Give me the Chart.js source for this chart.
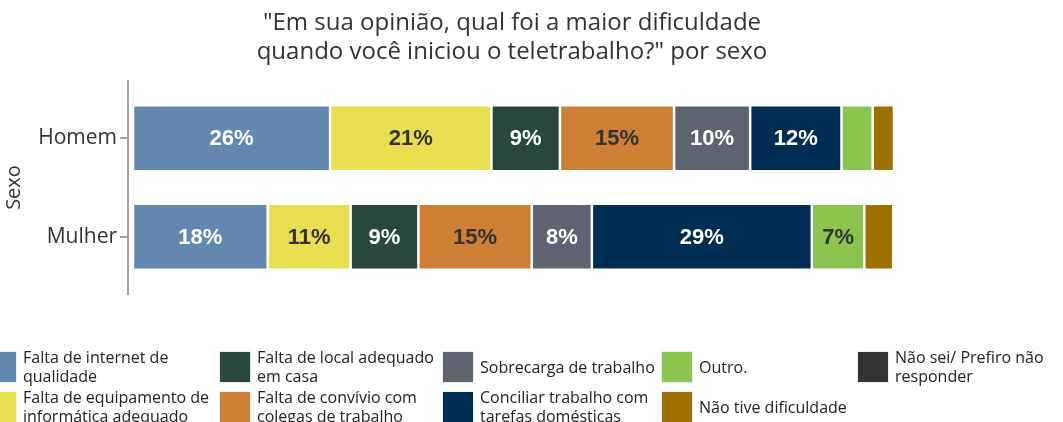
<!DOCTYPE html>
<html>
<head>
<meta charset="utf-8">
<script src="https://cdn.jsdelivr.net/npm/chart.js@4"></script>
<style>
  body { margin: 0; background: #fff; overflow: hidden; }
  #wrap { position: relative; width: 1063px; height: 422px; }
  #title {
    position: absolute; top: 6px; left: 0; width: 1024px;
    text-align: center; font: 24px "Open Sans", sans-serif; line-height: 29px; color: #333;
  }
  #legend {
    position: absolute; top: 347px; left: -14px;
    display: grid; grid-auto-flow: column;
    grid-template-rows: 40px 40px;
    grid-template-columns: 234px 223px 219px 196px 200px;
    font: 16px "Open Sans", sans-serif; color: #222; line-height: 19px;
  }
  .item { display: flex; align-items: center; }
  .sw { width: 30px; height: 30px; flex: none; margin-right: 7px; box-shadow: 0 0 0 1px #eee; }
</style>
</head>
<body>
<div id="wrap">
  <div id="title">"Em sua opinião, qual foi a maior dificuldade<br>quando você iniciou o teletrabalho?" por sexo</div>
  <canvas id="chart" width="1063" height="422"></canvas>
  <div id="legend"></div>
</div>
<script>
"use strict";

// categories and answer options
var categories = ["Homem", "Mulher"];
var answers = [
  "Falta de internet de qualidade",
  "Falta de equipamento de informática adequado",
  "Falta de local adequado em casa",
  "Falta de convívio com colegas de trabalho",
  "Sobrecarga de trabalho",
  "Conciliar trabalho com tarefas domésticas",
  "Outro.",
  "Não tive dificuldade",
  "Não sei/ Prefiro não responder"
];

// percentages, one value per answer
var homem  = [25.9, 21.2, 9.0, 15.0, 10.0, 12.0, 4.1, 2.8, 0];
var mulher = [17.7, 10.9, 8.9, 14.9, 7.9, 28.9, 6.9, 3.8, 0];

var colors = ["#6388b0", "#e9de50", "#29473b", "#cd7f35", "#5d6470", "#002d53", "#8bc550", "#9e7000", "#333333"];
var textColors = ["#fff", "#333", "#fff", "#333", "#fff", "#fff", "#333", "#fff", "#fff"];

var datasets = answers.map(function (name, i) {
  return {
    label: name,
    data: [homem[i], mulher[i]],
    backgroundColor: colors[i],
    borderColor: "#fff",
    borderWidth: 1.25,
    borderSkipped: false,
    barPercentage: 0.67,
    categoryPercentage: 1
  };
});

// value labels in the middle of each segment
var barLabels = {
  id: "barLabels",
  afterDatasetsDraw: function (chart) {
    var ctx = chart.ctx;
    ctx.save();
    ctx.font = "bold 22px 'Liberation Sans', Arial, sans-serif";
    ctx.textAlign = "center";
    ctx.textBaseline = "middle";
    chart.data.datasets.forEach(function (ds, i) {
      chart.getDatasetMeta(i).data.forEach(function (bar, j) {
        var v = ds.data[j];
        if (v < 5) return;
        ctx.fillStyle = textColors[i];
        ctx.fillText(Math.round(v) + "%", (bar.x + bar.base) / 2, bar.y + 1);
      });
    });
    ctx.restore();
  }
};

// the y axis line reaches a bit past the plot area
var axisLine = {
  id: "axisLine",
  afterDraw: function (chart) {
    var ctx = chart.ctx, a = chart.chartArea;
    ctx.save();
    ctx.strokeStyle = "#a3a3a3";
    ctx.lineWidth = 2;
    ctx.beginPath();
    ctx.moveTo(a.left, a.top - 9);
    ctx.lineTo(a.left, a.bottom + 9);
    ctx.stroke();
    ctx.restore();
  }
};

new Chart(document.getElementById("chart"), {
  type: "bar",
  data: { labels: categories, datasets: datasets },
  options: {
    indexAxis: "y",
    responsive: false,
    animation: false,
    layout: { padding: { left: 0, right: 169, top: 89, bottom: 136 } },
    plugins: {
      legend: { display: false },
      title: { display: false },
      tooltip: { enabled: false }
    },
    scales: {
      x: {
        stacked: true,
        display: false,
        min: -0.657,
        max: 100
      },
      y: {
        stacked: true,
        afterFit: function (scale) { scale.width = 128; },
        border: { display: false },
        grid: {
          display: true,
          drawOnChartArea: false,
          drawTicks: true,
          tickLength: 8,
          offset: false,
          color: "#a3a3a3",
          lineWidth: 2
        },
        ticks: {
          color: "#333",
          padding: 3,
          font: { family: "'Open Sans', sans-serif", size: 21 }
        },
        title: {
          display: true,
          text: "Sexo",
          color: "#333",
          padding: 2,
          font: { family: "'Open Sans', sans-serif", size: 20 }
        }
      }
    }
  },
  plugins: [barLabels, axisLine]
});

// legend laid out like the original: two rows, filled column by column
var legend = document.getElementById("legend");
answers.forEach(function (name, i) {
  var item = document.createElement("div");
  item.className = "item";
  var sw = document.createElement("span");
  sw.className = "sw";
  sw.style.background = colors[i];
  var txt = document.createElement("span");
  txt.textContent = name;
  item.appendChild(sw);
  item.appendChild(txt);
  legend.appendChild(item);
});
</script>
</body>
</html>
